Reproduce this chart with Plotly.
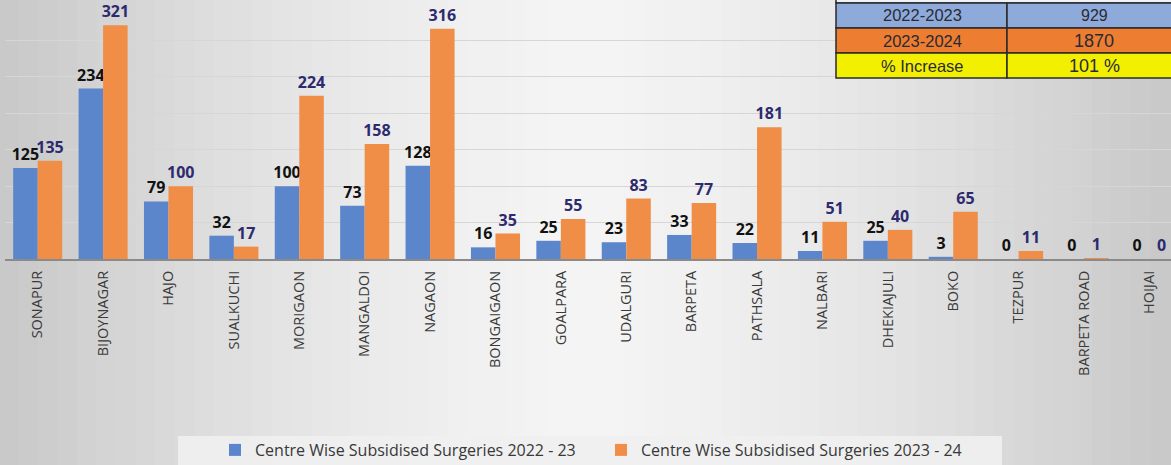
import plotly.graph_objects as go

centres = ["SONAPUR", "BIJOYNAGAR", "HAJO", "SUALKUCHI", "MORIGAON", "MANGALDOI",
           "NAGAON", "BONGAIGAON", "GOALPARA", "UDALGURI", "BARPETA", "PATHSALA",
           "NALBARI", "DHEKIAJULI", "BOKO", "TEZPUR", "BARPETA ROAD", "HOIJAI"]
surg_2022_23 = [125, 234, 79, 32, 100, 73, 128, 16, 25, 23, 33, 22, 11, 25, 3, 0, 0, 0]
surg_2023_24 = [135, 321, 100, 17, 224, 158, 316, 35, 55, 83, 77, 181, 51, 40, 65, 11, 1, 0]
series_names = ["Centre Wise Subsidised Surgeries 2022 - 23",
                "Centre Wise Subsidised Surgeries 2023 - 24"]
table_labels = ["2022-2023", "2023-2024", "% Increase"]
table_values = ["929", "1870", "101 %"]

W, H = 1171, 465
L, R, T, B = 5, 1171, 4, 259

def px(x):
    return (x - L) / (R - L)

def py(y):
    return (B - y) / (B - T)

FONT = "Open Sans"
fig = go.Figure()
fig.add_trace(go.Bar(
    x=centres, y=surg_2022_23, name=series_names[0],
    marker=dict(color="#5b86cb", line=dict(width=0)),
    text=surg_2022_23, textposition="outside", constraintext="none",
    textfont=dict(family=FONT, size=16, color="#111111", weight="bold"),
    cliponaxis=False,
))
fig.add_trace(go.Bar(
    x=centres, y=surg_2023_24, name=series_names[1],
    marker=dict(color="#f08d47", line=dict(width=0)),
    text=surg_2023_24, textposition="outside", constraintext="none",
    textfont=dict(family=FONT, size=16, color="#2d2a6e", weight="bold"),
    cliponaxis=False,
))

shapes = []
# background gradient strips
n = 60
for i in range(n):
    t = (i + 0.5) / n
    c = int(round(244 - 44 * abs(2 * t - 1) ** 1.5))
    shapes.append(dict(type="rect", xref="paper", yref="paper", layer="below",
                       x0=px(i * W / n - 1), x1=px((i + 1) * W / n + 1),
                       y0=py(H + 2), y1=py(-2), line=dict(width=0),
                       fillcolor=f"rgb({c},{c},{c})"))
# legend box
shapes.append(dict(type="rect", xref="paper", yref="paper", layer="below",
                   x0=px(178), x1=px(1002), y0=py(466), y1=py(436),
                   line=dict(width=0), fillcolor="rgba(240,240,240,0.9)"))
# table
rows_y = [3, 28, 53, 78]
fills = ["#8eaadb", "#ed7d31", "#f2f000"]
shapes.append(dict(type="rect", xref="paper", yref="paper", layer="above",
                   x0=px(836), x1=px(1180), y0=py(3), y1=py(-10),
                   line=dict(width=1.5, color="#2a2a2a"), fillcolor="#eef1f7"))
for i in range(3):
    for (xa, xb) in [(836, 1007), (1007, 1180)]:
        shapes.append(dict(type="rect", xref="paper", yref="paper", layer="above",
                           x0=px(xa), x1=px(xb), y0=py(rows_y[i + 1]), y1=py(rows_y[i]),
                           line=dict(width=1.5, color="#2a2a2a"), fillcolor=fills[i]))

annotations = []
val_sizes = [16, 18, 18]
for i in range(3):
    yc = py((rows_y[i] + rows_y[i + 1]) / 2)
    annotations.append(dict(xref="paper", yref="paper", x=px(922), y=yc,
                            text=table_labels[i], showarrow=False,
                            font=dict(family="Liberation Sans", size=16.5, color="#2a2a35"),
                            xanchor="center", yanchor="middle"))
    annotations.append(dict(xref="paper", yref="paper", x=px(1094), y=yc,
                            text=table_values[i], showarrow=False,
                            font=dict(family="Liberation Sans", size=val_sizes[i], color="#2a2a35"),
                            xanchor="center", yanchor="middle"))

fig.update_layout(
    width=W, height=H,
    margin=dict(l=L, r=W - R, t=T, b=H - B, pad=0, autoexpand=False),
    paper_bgcolor="#e4e4e4", plot_bgcolor="rgba(0,0,0,0)",
    barmode="group", bargap=0.25, bargroupgap=0,
    showlegend=True,
    legend=dict(orientation="h", x=px(215), xanchor="left",
                yref="container", y=(H - 450) / H, yanchor="middle",
                bgcolor="rgba(0,0,0,0)",
                font=dict(family=FONT, size=16, color="#383838"),
                itemwidth=30, traceorder="normal",
                entrywidth=341, entrywidthmode="pixels"),
    xaxis=dict(type="category", range=[-0.5, 17.33], tickangle=-90, automargin=False,
               tickfont=dict(family=FONT, size=14.5, color="#3a3a3a"),
               showgrid=False, showline=True, linecolor="#8a8a8a", linewidth=2,
               ticks="", ticklabelstandoff=4),
    yaxis=dict(range=[0, 350], dtick=50, showticklabels=False, showgrid=True, automargin=False,
               gridcolor="#d6d6d6", gridwidth=1, zeroline=False, showline=False),
    shapes=shapes, annotations=annotations,
)

fig.write_html("out.html", config={"displayModeBar": False},
               post_script="document.body.style.margin='0';document.body.style.overflow='hidden';")
